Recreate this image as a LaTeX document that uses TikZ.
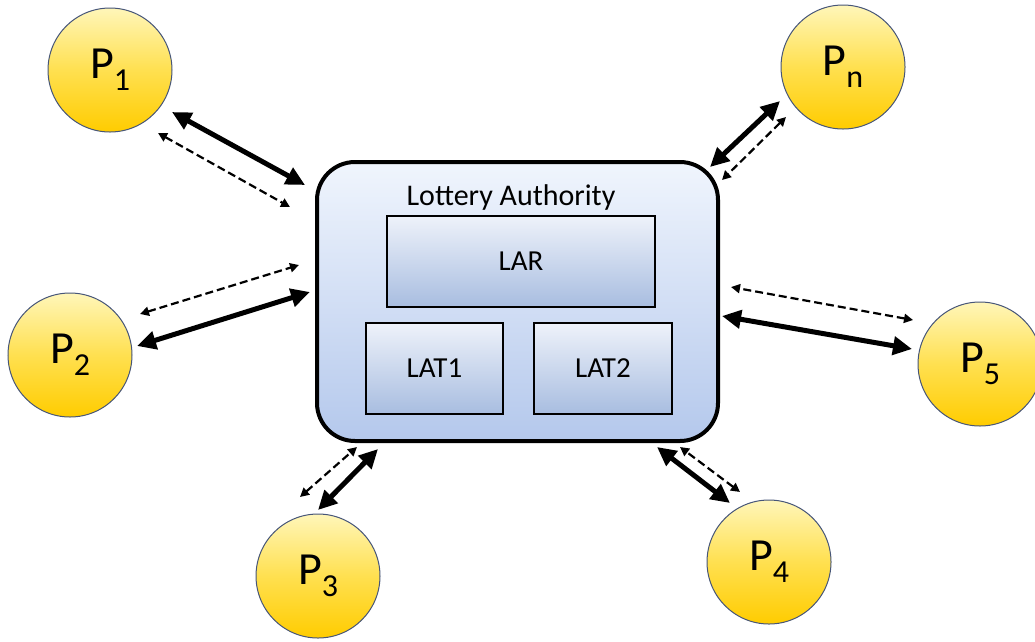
\documentclass[tikz,border=0pt]{standalone}
\usepackage{fontspec}
\setmainfont{Carlito}
\usetikzlibrary{arrows.meta}
\definecolor{ytop}{RGB}{255,246,185}
\definecolor{ymid}{RGB}{255,224,80}
\definecolor{ybot}{RGB}{255,204,0}
\definecolor{yedge}{RGB}{70,85,120}
\definecolor{btop}{RGB}{240,245,253}
\definecolor{bbot}{RGB}{180,200,236}
\definecolor{stop}{RGB}{238,242,250}
\definecolor{sbot}{RGB}{168,189,224}
\begin{document}
\begin{tikzpicture}[x=1pt,y=-1pt,
  pnode/.style={circle, draw=yedge, line width=1pt, minimum size=124pt, inner sep=0pt,
    top color=ytop, bottom color=ybot, middle color=ymid,
    font=\fontsize{46}{46}\selectfont},
  mainbox/.style={draw=black, line width=4pt, rounded corners=38pt, minimum width=401pt, minimum height=279pt,
    top color=btop, bottom color=bbot},
  subbox/.style={draw=black, line width=1.5pt, inner sep=0pt,
    top color=stop, bottom color=sbot,
    font=\fontsize{29}{29}\selectfont},
  solidarr/.style={line width=5pt, {Triangle[length=19pt,width=18pt]}-{Triangle[length=19pt,width=18pt]}},
  dasharr/.style={line width=2.2pt, dash pattern=on 8pt off 4pt, {Triangle[length=9pt,width=9pt]}-{Triangle[length=9pt,width=9pt]}}
]
\useasboundingbox (0,0) rectangle (1035,641);
\clip (0,0) rectangle (1035,641);
\newcommand{\pl}[1]{P\raisebox{-12pt}{\fontsize{32}{32}\selectfont #1}}

\node[mainbox] (la) at (517.5,301.5) {};
\node[font=\fontsize{30}{30}\selectfont] (title) at (511,197) {Lottery Authority};
\node[subbox, minimum width=268pt, minimum height=91pt] (lar) at (521,261.5) {LAR};
\node[subbox, minimum width=137pt, minimum height=91pt] (lat1) at (434.5,368.5) {LAT1};
\node[subbox, minimum width=138pt, minimum height=91pt] (lat2) at (603,368.5) {LAT2};

\node[pnode] (p1) at (110,70) {\pl{1}};
\node[pnode] (pn) at (843,67) {\pl{n}};
\node[pnode] (p2) at (70,355) {\pl{2}};
\node[pnode] (p5) at (980,364) {\pl{5}};
\node[pnode] (p3) at (318,576) {\pl{3}};
\node[pnode] (p4) at (769,562) {\pl{4}};

% arrow end points
\coordinate (a1s) at (172,112); \coordinate (b1s) at (305,185);
\coordinate (a1d) at (158,133); \coordinate (b1d) at (290,207);
\coordinate (a2s) at (137,346); \coordinate (b2s) at (310,292);
\coordinate (a2d) at (140,314); \coordinate (b2d) at (299,265);
\coordinate (a3s) at (318,510); \coordinate (b3s) at (378,449);
\coordinate (a3d) at (300,497); \coordinate (b3d) at (357,447);
\coordinate (a4s) at (730,503); \coordinate (b4s) at (657,447);
\coordinate (a4d) at (740,492); \coordinate (b4d) at (680,447);
\coordinate (a5s) at (912,349); \coordinate (b5s) at (722,316);
\coordinate (a5d) at (913,320); \coordinate (b5d) at (731,287);
\coordinate (ans) at (780,101); \coordinate (bns) at (710,167);
\coordinate (and) at (786,117); \coordinate (bnd) at (722,180);

\draw[solidarr] (a1s) -- (b1s);
\draw[dasharr] (a1d) -- (b1d);
\draw[solidarr] (a2s) -- (b2s);
\draw[dasharr] (a2d) -- (b2d);
\draw[solidarr] (a3s) -- (b3s);
\draw[dasharr] (a3d) -- (b3d);
\draw[solidarr] (a4s) -- (b4s);
\draw[dasharr] (a4d) -- (b4d);
\draw[solidarr] (a5s) -- (b5s);
\draw[dasharr] (a5d) -- (b5d);
\draw[solidarr] (ans) -- (bns);
\draw[dasharr] (and) -- (bnd);
\end{tikzpicture}
\end{document}
